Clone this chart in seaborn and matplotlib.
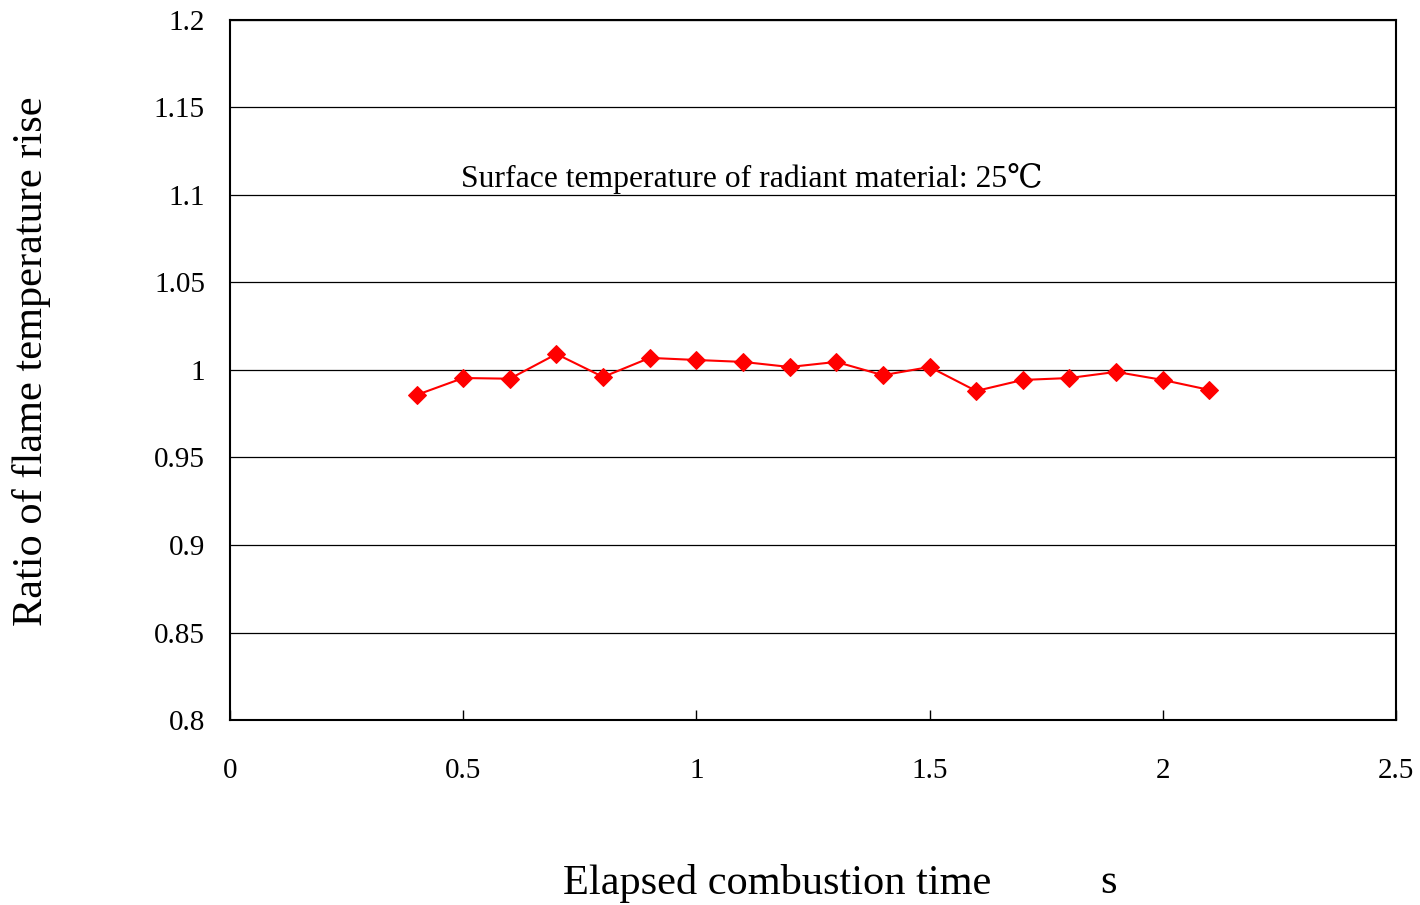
import matplotlib
matplotlib.use("Agg")
import matplotlib.pyplot as plt
import seaborn as sns
import pandas as pd

time_s = [0.4, 0.5, 0.6, 0.7, 0.8, 0.9, 1.0, 1.1, 1.2, 1.3, 1.4, 1.5, 1.6, 1.7, 1.8, 1.9, 2.0, 2.1]
ratio = [0.9857, 0.9954, 0.995, 1.0091, 0.996, 1.0069, 1.0057, 1.0046, 1.0017, 1.0046,
         0.997, 1.0017, 0.988, 0.9943, 0.9954, 0.9989, 0.9943, 0.9886]
x_ticks = [0, 0.5, 1, 1.5, 2, 2.5]
x_tick_labels = ["0", "0.5", "1", "1.5", "2", "2.5"]
y_ticks = [0.8, 0.85, 0.9, 0.95, 1.0, 1.05, 1.1, 1.15, 1.2]
y_tick_labels = ["0.8", "0.85", "0.9", "0.95", "1", "1.05", "1.1", "1.15", "1.2"]

sns.set_style("white")
plt.rcParams["font.family"] = ["Liberation Serif", "DejaVu Serif", "DejaVu Sans"]
plt.rcParams["text.color"] = "black"

df = pd.DataFrame({"time": time_s, "ratio": ratio})

fig = plt.figure(figsize=(14.2, 9.05), dpi=100)
ax = fig.add_axes([0.162, 0.2044, 0.821, 0.7736])

sns.lineplot(data=df, x="time", y="ratio", ax=ax, color="#ff0000", linewidth=1.5,
             marker="D", markersize=9.5, markeredgecolor="#ff0000", markerfacecolor="#ff0000")

ax.set_xlim(0, 2.5)
ax.set_ylim(0.8, 1.2)
ax.set_xticks(x_ticks)
ax.set_xticklabels(x_tick_labels)
ax.set_yticks(y_ticks)
ax.set_yticklabels(y_tick_labels)
ax.yaxis.grid(True, color="black", linewidth=0.9)
ax.xaxis.grid(False)
ax.set_axisbelow(True)
for sp in ax.spines.values():
    sp.set_visible(True)
    sp.set_color("black")
    sp.set_linewidth(1.5)
ax.tick_params(axis="x", direction="in", length=7, width=1, pad=27, labelsize=21,
               bottom=True, labelcolor="black", color="black")
ax.tick_params(axis="y", direction="in", length=0, pad=18, labelsize=21, left=True,
               labelcolor="black")

ax.set_xlabel("Elapsed combustion time", fontsize=30.5, color="black")
ax.xaxis.label.set_va("center")
ax.xaxis.set_label_coords(0.4691, -0.233)
ax.text(0.7464, -0.233, "s", transform=ax.transAxes, fontsize=30.5, ha="left", va="center")
ax.set_ylabel("Ratio of flame temperature rise", fontsize=30.5, color="black")
ax.yaxis.label.set_va("center")
ax.yaxis.set_label_coords(-0.170, 0.5129)

ax.text(0.198, 0.7729, "Surface temperature of radiant material: 25\u2103", transform=ax.transAxes,
        fontsize=22.8, ha="left", va="center")

fig.savefig("out.png", dpi=100)
